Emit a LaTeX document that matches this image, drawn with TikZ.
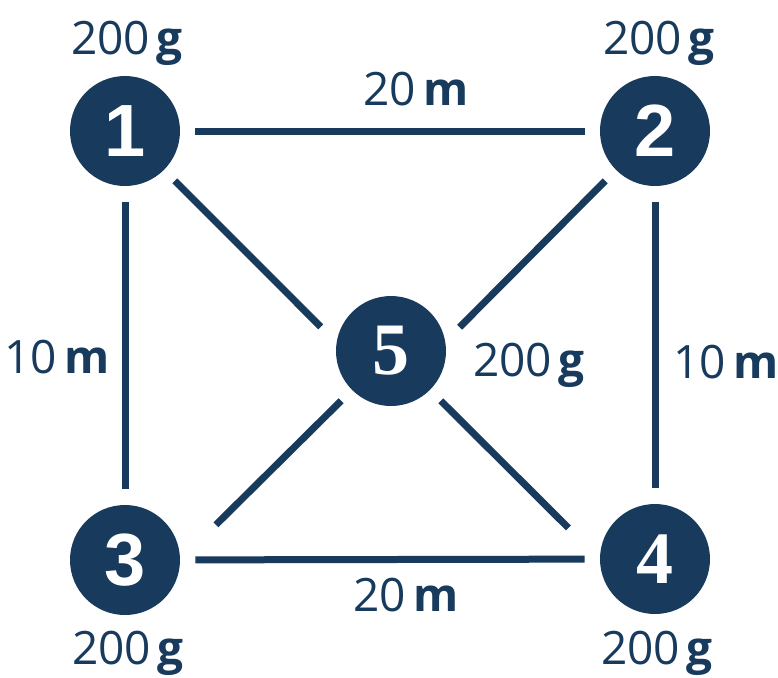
\documentclass[tikz,border=0pt]{standalone}
\usepackage{fontspec}
\setmainfont{Open Sans}
\newfontfamily\numsans{Liberation Sans}
\newfontfamily\numserif{Liberation Serif}
\definecolor{NodeBlue}{RGB}{24,58,93}
\newcommand{\amount}[2]{#1\hspace{0.15em}\textbf{#2}}
\tikzset{
	stop/.style={circle,fill=NodeBlue,text=white,minimum size=55pt,inner sep=0pt,
		font=\fontsize{37}{40}\selectfont\bfseries},
	road/.style={draw=NodeBlue,line width=3.5pt},
	tag/.style={text=NodeBlue,inner sep=0pt,font=\fontsize{23}{27}\selectfont},
}
\begin{document}
\begin{tikzpicture}[x=0.5pt,y=-0.5pt]
	\useasboundingbox (0,0) rectangle (778,677);
	% stops
	\node[stop] (n1) at (125,131) {\numsans 1};
	\node[stop] (n2) at (655,131) {\numsans 2};
	\node[stop] (n3) at (125,560) {\numsans 3};
	\node[stop] (n4) at (655,559) {\numserif 4};
	\node[stop] (n5) at (391,351) {\numserif 5};
	% roads
	\draw[road,shorten <=7.5pt,shorten >=7.5pt] (n1) -- (n2);
	\draw[road,shorten <=8pt,shorten >=8pt] (n1) -- (n3);
	\draw[road,shorten <=8pt,shorten >=8pt] (n2) -- (n4);
	\draw[road,shorten <=7.5pt,shorten >=7.5pt] (n3) -- (n4);
	\draw[road,shorten <=7.5pt,shorten >=11pt] (n1.-45) -- (n5.171);
	\draw[road,shorten <=7.5pt,shorten >=10pt] (n2.-135) -- (n5.10);
	\draw[road,shorten <=7.5pt,shorten >=25pt] (n5.-135) -- (n3.0);
	\draw[road,shorten <=7.5pt,shorten >=22pt] (n5.-45) -- (n4.180);
	% weights
	\node[tag] (w1) at (127,43) {\amount{200}{g}};
	\node[tag] (w2) at (659,43) {\amount{200}{g}};
	\node[tag] (w3) at (128,653) {\amount{200}{g}};
	\node[tag] (w4) at (657,653) {\amount{200}{g}};
	\node[tag] (w5) at (529,365) {\amount{200}{g}};
	% distances
	\node[tag] (d12) at (416,89) {\amount{20}{m}};
	\node[tag] (d13) at (57,357) {\amount{10}{m}};
	\node[tag] (d24) at (726,362) {\amount{10}{m}};
	\node[tag] (d34) at (406,595) {\amount{20}{m}};
\end{tikzpicture}
\end{document}
